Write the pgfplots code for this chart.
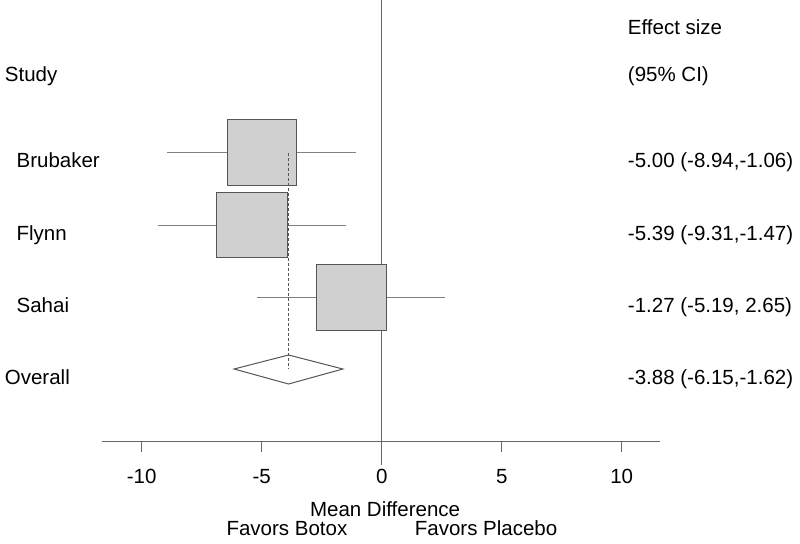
\documentclass[border=0pt]{standalone}
\usepackage{pgfplots}
\pgfplotsset{compat=1.18}
\usepackage{fontspec}
\setmainfont{Liberation Sans}
\definecolor{linegray}{HTML}{808080}
\definecolor{boxfill}{HTML}{D0D0D0}
\definecolor{boxdraw}{HTML}{555555}
\definecolor{axisgray}{HTML}{666666}
\tikzset{lbl/.style={inner sep=0pt, outer sep=0pt, font=\fontsize{20.5bp}{24bp}\selectfont}}
\begin{document}
\fontsize{20.5bp}{24bp}\selectfont
\begin{tikzpicture}
\begin{axis}[
  width=800bp, height=544bp, scale only axis,
  hide axis, clip=false,
  xmin=-15.904, xmax=17.429,
  ymin=0, ymax=544, y dir=reverse,
]
% zero reference line
\addplot[axisgray, line width=1bp] coordinates {(0,0) (0,465)};
% x axis line and ticks
\addplot[axisgray, line width=1bp] coordinates {(-11.67,441.7) (11.6,441.7)};
\pgfplotsinvokeforeach{-10,-5,5,10}{
  \addplot[axisgray, line width=1bp] coordinates {(#1,441.7) (#1,452)};
}
% confidence intervals
\addplot[linegray, line width=1bp] coordinates {(-8.94,152.5) (-1.06,152.5)};
\addplot[linegray, line width=1bp] coordinates {(-9.31,225) (-1.47,225)};
\addplot[linegray, line width=1bp] coordinates {(-5.19,297.3) (2.65,297.3)};
% study boxes
\addplot[fill=boxfill, draw=boxdraw, line width=1bp] coordinates {(-6.44,120) (-3.56,120) (-3.56,185) (-6.44,185)} -- cycle;
\addplot[fill=boxfill, draw=boxdraw, line width=1bp] coordinates {(-6.87,192.3) (-3.91,192.3) (-3.91,257.7) (-6.87,257.7)} -- cycle;
\addplot[fill=boxfill, draw=boxdraw, line width=1bp] coordinates {(-2.72,264) (0.18,264) (0.18,330) (-2.72,330)} -- cycle;
% overall dashed line
\addplot[boxdraw, line width=0.8bp, dash pattern=on 3bp off 2bp] coordinates {(-3.88,153) (-3.88,369)};
% overall diamond
\addplot[draw=boxdraw, line width=1bp] coordinates {(-6.15,369) (-3.88,355) (-1.62,369) (-3.88,384)} -- cycle;
% tick labels
\node[lbl, anchor=base] at (axis cs:-10,483) {-10};
\node[lbl, anchor=base] at (axis cs:-5,483) {-5};
\node[lbl, anchor=base] at (axis cs:0,483) {0};
\node[lbl, anchor=base] at (axis cs:5,483) {5};
\node[lbl, anchor=base] at (axis cs:10,483) {10};
% axis titles
\node[lbl, anchor=base] at (axis cs:0.14,516.7) {Mean Difference};
\node[lbl, anchor=base] at (axis cs:-3.95,535) {Favors Botox};
\node[lbl, anchor=base] at (axis cs:4.35,535) {Favors Placebo};
% headers
\node[lbl, anchor=base west] at (axis cs:-15.70,82) {Study};
\node[lbl, anchor=base west] at (axis cs:10.26,35) {Effect size};
\node[lbl, anchor=base west] at (axis cs:10.26,82) {(95\% CI)};
% study labels
\node[lbl, anchor=base west] at (axis cs:-15.21,167) {Brubaker};
\node[lbl, anchor=base west] at (axis cs:-15.21,240) {Flynn};
\node[lbl, anchor=base west] at (axis cs:-15.21,312) {Sahai};
\node[lbl, anchor=base west] at (axis cs:-15.70,384) {Overall};
% effect sizes
\node[lbl, anchor=base west] at (axis cs:10.26,167) {-5.00 (-8.94,-1.06)};
\node[lbl, anchor=base west] at (axis cs:10.26,240) {-5.39 (-9.31,-1.47)};
\node[lbl, anchor=base west] at (axis cs:10.26,312) {-1.27 (-5.19, 2.65)};
\node[lbl, anchor=base west] at (axis cs:10.26,384) {-3.88 (-6.15,-1.62)};
\end{axis}
\pgfresetboundingbox
\path[use as bounding box] (current axis.south west) rectangle (current axis.north east);
\end{tikzpicture}
\end{document}
